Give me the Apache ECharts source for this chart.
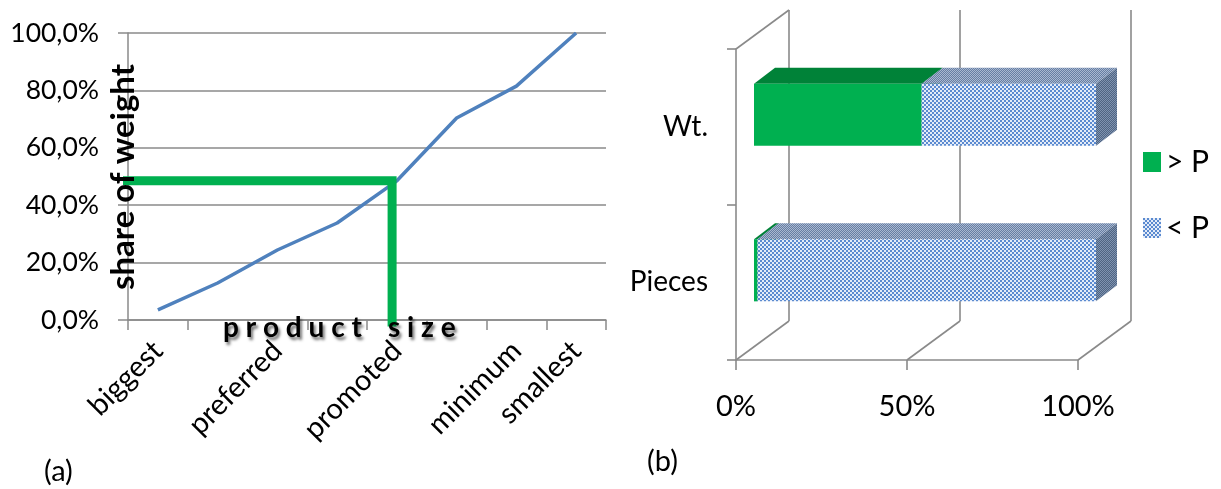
<!DOCTYPE html>
<html>
<head>
<meta charset="utf-8">
<script src="https://cdn.jsdelivr.net/npm/echarts@6/dist/echarts.min.js"></script>
<style>
  html, body { margin: 0; padding: 0; background: #fff; }
  #chart { width: 1221px; height: 489px; }
</style>
</head>
<body>
<div id="chart"></div>
<script>
// (a) cumulative share of weight along the product sizes
const sizeLabels = ['biggest', '', 'preferred', '', 'promoted', '', 'minimum', 'smallest'];
const weightShare = [3.5, 12.9, 24.4, 33.8, 48.5, 70.4, 81.5, 100];
// green guide line, x in category units (0..8), y in %
const guideX = [-0.12, 4.42, 4.42];
const guideY = [48.5, 48.5, -2.3];
const shareTicks = [0, 20, 40, 60, 80, 100];

// (b) shares above / below P
const groups = ['Pieces', 'Wt.'];
const abovePValues = [1, 49];
const belowPValues = [99, 51];
const percentTicks = [0, 50, 100];

const FONT = 'Lato';
const GREY = '#8a8a8a';
// 3d look of panel (b)
const WALL_DEPTH = [53, -39];
const BAR_SHIFT = [18, -12];
const BAR_DEPTH = [21, -16];

function checker(c1, c2, size) {
  const cv = document.createElement('canvas');
  cv.width = cv.height = size * 2;
  const ctx = cv.getContext('2d');
  ctx.fillStyle = c2;
  ctx.fillRect(0, 0, size * 2, size * 2);
  ctx.fillStyle = c1;
  ctx.fillRect(0, 0, size, size);
  ctx.fillRect(size, size, size, size);
  return { image: cv, repeat: 'repeat' };
}
function hatch(c1, c2) {
  const cv = document.createElement('canvas');
  cv.width = cv.height = 4;
  const ctx = cv.getContext('2d');
  ctx.fillStyle = c2;
  ctx.fillRect(0, 0, 4, 4);
  ctx.fillStyle = c1;
  for (let i = 0; i < 4; i++) {
    ctx.fillRect(i, 3 - i, 1, 1);
    ctx.fillRect((i + 2) % 4, 3 - i, 1, 1);
  }
  return { image: cv, repeat: 'repeat' };
}

const greenFaces = { front: '#00b050', top: '#008238', side: '#00703a' };
const blueFaces = {
  front: checker('#5b8ad0', '#e4ecf8', 2),
  top: hatch('#667ea3', '#a9b8d0'),
  side: hatch('#4f6482', '#7f93b0')
};

function boxItem(faces) {
  return function (params, api) {
    const cat = api.value(0);
    const a = api.coord([api.value(1), cat]);
    const b = api.coord([api.value(2), cat]);
    const h = api.size([0, 1])[1] * 0.4;
    const x0 = a[0] + BAR_SHIFT[0];
    const x1 = b[0] + BAR_SHIFT[0];
    const y0 = a[1] - h / 2 + BAR_SHIFT[1];
    const y1 = y0 + h;
    const dx = BAR_DEPTH[0], dy = BAR_DEPTH[1];
    return {
      type: 'group',
      children: [
        { type: 'polygon', shape: { points: [[x0, y0], [x1, y0], [x1 + dx, y0 + dy], [x0 + dx, y0 + dy]] }, style: { fill: faces.top } },
        { type: 'polygon', shape: { points: [[x1, y0], [x1 + dx, y0 + dy], [x1 + dx, y1 + dy], [x1, y1]] }, style: { fill: faces.side } },
        { type: 'rect', shape: { x: x0, y: y0, width: x1 - x0, height: h }, style: { fill: faces.front } }
      ]
    };
  };
}

function frameItem(params, api) {
  const cs = params.coordSys;
  const x = api.coord([api.value(0), 0])[0];
  const top = cs.y, bottom = cs.y + cs.height;
  const dx = WALL_DEPTH[0], dy = WALL_DEPTH[1];
  const st = { stroke: GREY, lineWidth: 1.6 };
  const children = [
    { type: 'line', shape: { x1: x, y1: bottom, x2: x + dx, y2: bottom + dy }, style: st },
    { type: 'line', shape: { x1: x + dx, y1: bottom + dy, x2: x + dx, y2: top + dy }, style: st }
  ];
  if (params.dataIndex === 0) {
    children.push({ type: 'line', shape: { x1: x, y1: top, x2: x + dx, y2: top + dy }, style: st });
  }
  return { type: 'group', children: children };
}

const chart = echarts.init(document.getElementById('chart'), null, { renderer: 'canvas' });

const legendText = { fontSize: 30, color: '#000', fontFamily: FONT };
const shadowed = {
  font: 'bold 28px Lato', fill: '#000', align: 'left', verticalAlign: 'middle',
  textShadowColor: 'rgba(0,0,0,0.55)', textShadowBlur: 3, textShadowOffsetX: 2, textShadowOffsetY: 3
};

const option = {
  animation: false,
  backgroundColor: '#fff',
  textStyle: { fontFamily: FONT },
  grid: [
    { left: 128, right: 615, top: 33, bottom: 169, outerBoundsMode: 'none' },
    { left: 736, width: 342, top: 49, height: 311, outerBoundsMode: 'none' }
  ],
  xAxis: [
    {
      type: 'category',
      gridIndex: 0,
      data: sizeLabels,
      axisLine: { show: true, lineStyle: { color: GREY, width: 1.5 } },
      axisTick: { show: true, interval: 0, length: 10, lineStyle: { color: GREY, width: 1.5 } },
      axisLabel: { interval: 0, rotate: 45, margin: 26, fontSize: 29, color: '#000', fontFamily: FONT }
    },
    { type: 'value', gridIndex: 0, min: 0, max: 8, show: false },
    {
      type: 'value',
      gridIndex: 1,
      min: percentTicks[0],
      max: percentTicks[percentTicks.length - 1],
      interval: percentTicks[1] - percentTicks[0],
      axisLine: { show: true, lineStyle: { color: GREY, width: 1.6 } },
      axisTick: { show: true, length: 10, lineStyle: { color: GREY, width: 1.6 } },
      splitLine: { show: false },
      axisLabel: { margin: 32, fontSize: 29, color: '#000', fontFamily: FONT, formatter: '{value}%' }
    }
  ],
  yAxis: [
    {
      type: 'value',
      gridIndex: 0,
      min: shareTicks[0],
      max: shareTicks[shareTicks.length - 1],
      interval: shareTicks[1] - shareTicks[0],
      axisLine: { show: true, lineStyle: { color: GREY, width: 1.5 } },
      axisTick: { show: true, length: 10, lineStyle: { color: GREY, width: 1.5 } },
      splitLine: { show: true, lineStyle: { color: GREY, width: 1.5 } },
      axisLabel: {
        margin: 29, fontSize: 26.5, color: '#000', fontFamily: FONT,
        formatter: function (v) { return v.toFixed(1).replace('.', ',') + '%'; }
      }
    },
    {
      type: 'category',
      gridIndex: 1,
      data: groups,
      axisLine: { show: true, lineStyle: { color: GREY, width: 1.6 } },
      axisTick: { show: true, length: 9, lineStyle: { color: GREY, width: 1.6 } },
      axisLabel: { margin: 28, fontSize: 28, color: '#000', fontFamily: FONT }
    }
  ],
  legend: {
    orient: 'vertical',
    left: 1143,
    top: 147,
    padding: 0,
    icon: 'rect',
    itemWidth: 18,
    itemHeight: 20,
    itemGap: 36,
    textStyle: legendText,
    data: [
      { name: '> P', itemStyle: { color: greenFaces.front }, textStyle: legendText },
      { name: '< P', itemStyle: { color: blueFaces.front }, textStyle: legendText }
    ]
  },
  graphic: [
    {
      type: 'text', z: 100, x: 123, y: 177, rotation: Math.PI / 2,
      style: { text: 'share of weight', font: 'bold 33px Lato', fill: '#000', align: 'center', verticalAlign: 'middle' }
    },
    { type: 'text', z: 100, x: 223, y: 328, style: Object.assign({ text: 'p r o d u c t' }, shadowed) },
    { type: 'text', z: 100, x: 388, y: 328, style: Object.assign({ text: 's i z e' }, shadowed) },
    { type: 'text', x: 44, y: 472, style: { text: '(a)', font: '29px Lato', fill: '#000', verticalAlign: 'middle' } },
    { type: 'text', x: 647, y: 462, style: { text: '(b)', font: '29px Lato', fill: '#000', verticalAlign: 'middle' } }
  ],
  series: [
    {
      name: 'share of weight',
      type: 'line',
      xAxisIndex: 0,
      yAxisIndex: 0,
      data: weightShare,
      showSymbol: false,
      symbol: 'none',
      lineStyle: { color: '#4f81bd', width: 3.5 },
      z: 3
    },
    {
      name: 'guide',
      type: 'line',
      xAxisIndex: 1,
      yAxisIndex: 0,
      data: guideX.map(function (x, i) { return [x, guideY[i]]; }),
      showSymbol: false,
      symbol: 'none',
      clip: false,
      lineStyle: { color: '#00b050', width: 9, cap: 'butt', join: 'miter' },
      z: 4
    },
    {
      name: 'frame',
      type: 'custom',
      xAxisIndex: 2,
      yAxisIndex: 1,
      renderItem: frameItem,
      encode: { x: 0, y: 1 },
      data: percentTicks.map(function (v) { return [v, 0]; }),
      silent: true,
      z: 1
    },
    {
      name: '> P',
      type: 'custom',
      xAxisIndex: 2,
      yAxisIndex: 1,
      renderItem: boxItem(greenFaces),
      itemStyle: { color: greenFaces.front },
      encode: { y: 0, x: [1, 2] },
      data: groups.map(function (g, i) { return [i, 0, abovePValues[i]]; }),
      z: 3
    },
    {
      name: '< P',
      type: 'custom',
      xAxisIndex: 2,
      yAxisIndex: 1,
      renderItem: boxItem(blueFaces),
      itemStyle: { color: '#5b8ad0' },
      encode: { y: 0, x: [1, 2] },
      data: groups.map(function (g, i) { return [i, abovePValues[i], abovePValues[i] + belowPValues[i]]; }),
      z: 4
    }
  ]
};

chart.setOption(option);
</script>
</body>
</html>
